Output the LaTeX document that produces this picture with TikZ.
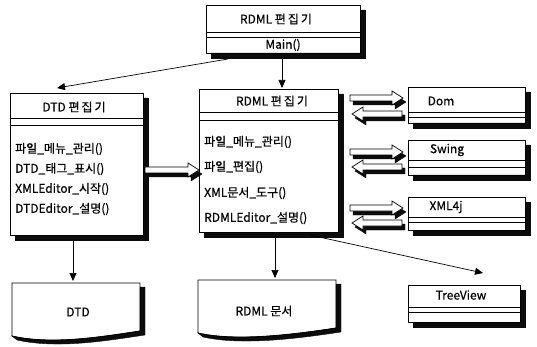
\documentclass[tikz,border=0pt]{standalone}
\usepackage{fontspec}
\setmainfont{Noto Sans CJK KR}[FakeBold=0.6]
\usetikzlibrary{arrows.meta}
\definecolor{shadowc}{RGB}{12,12,12}
\tikzset{shd/.style={fill=shadowc,draw=shadowc,line width=0.4pt}}
\begin{document}
\begin{tikzpicture}[x=1pt,y=-1pt,font=\fontsize{12}{14}\selectfont,
  cls/.style={draw,line width=0.9pt,inner sep=0,anchor=north west},
  conn/.style={line width=0.7pt,-{Triangle[length=8pt,width=7pt]}},
  item/.style={inner sep=0,anchor=west},
  ttl/.style={inner sep=0},
  cmp/.style={line width=0.7pt}]
\useasboundingbox (0,0) rectangle (537,347);
% ---- shadows (drawn first, L-shaped so nothing covers them)
\path[shd] (360,10) -- (365,10) -- (365,58) -- (211,58) -- (211,53) -- (360,53) -- cycle;
\path[shd] (143,98) -- (148,98) -- (148,240) -- (15,240) -- (15,235) -- (143,235) -- cycle;
\path[shd] (338,94) -- (343,94) -- (343,237) -- (204,237) -- (204,232) -- (338,232) -- cycle;
\path[shd] (525,92) -- (530,92) -- (530,128) -- (413,128) -- (413,123) -- (525,123) -- cycle;
\path[shd] (525,145) -- (530,145) -- (530,180) -- (413,180) -- (413,175) -- (525,175) -- cycle;
\path[shd] (525,202) -- (530,202) -- (530,235) -- (413,235) -- (413,230) -- (525,230) -- cycle;
\path[shd] (520,290) -- (525,290) -- (525,327) -- (413,327) -- (413,322) -- (520,322) -- cycle;
% document shadows
\path[shd] (140,287) -- (145,287) -- (145,335) .. controls (105,341) and (57,349) .. (17,340) -- (12,336) .. controls (52,345) and (100,337) .. (140,331) -- cycle;
\path[shd] (336,284) -- (341,284) -- (341,332) .. controls (301,338) and (243,346) .. (203,337) -- (198,333) .. controls (238,342) and (296,334) .. (336,328) -- cycle;
% fat arrow shadows (right-pointing)
\path[shd] (148,171) -- (191,171) -- (191,167) -- (202,174) -- (191,181) -- (191,177) -- (148,177) -- cycle;
\path[shd] (353,99) -- (395,99) -- (395,95) -- (406,102) -- (395,109) -- (395,105) -- (353,105) -- cycle;
\path[shd] (353,153) -- (395,153) -- (395,149) -- (406,156) -- (395,163) -- (395,159) -- (353,159) -- cycle;
\path[shd] (353,209) -- (395,209) -- (395,205) -- (406,212) -- (395,219) -- (395,215) -- (353,215) -- cycle;
% fat arrow shadows (left-pointing)
\path[shd] (405,115) -- (366,115) -- (366,111) -- (355,118) -- (366,125) -- (366,121) -- (405,121) -- cycle;
\path[shd] (405,168) -- (366,168) -- (366,164) -- (355,171) -- (366,178) -- (366,174) -- (405,174) -- cycle;
\path[shd] (405,224) -- (366,224) -- (366,220) -- (355,227) -- (366,234) -- (366,230) -- (405,230) -- cycle;

% ---- class boxes
\node[cls,minimum width=154,minimum height=48] (top) at (206,5) {};
\draw[cmp] (top.west|-0,32) -- (top.east|-0,32) (top.west|-0,37) -- (top.east|-0,37);
\node[ttl] (topt) at (276,19) {RDML 편\,집\,기};
\node[ttl] (topm) at (283,45) {Main()};

\node[cls,minimum width=133,minimum height=142] (dtd) at (10,93) {};
\draw[cmp] (dtd.west|-0,118) -- (dtd.east|-0,118) (dtd.west|-0,125) -- (dtd.east|-0,125);
\node[ttl] (dtdt) at (74,107) {DTD 편\,집\,기};
\node[item] (d1) at (15,149) {파일\_메뉴\_관리()};
\node[item] (d2) at (15,169) {DTD\_태그\_표시()};
\node[item] (d3) at (15,189) {XMLEditor\_시작()};
\node[item] (d4) at (15,209) {DTDEditor\_설명()};

\node[cls,minimum width=139,minimum height=143] (rdml) at (199,89) {};
\draw[cmp] (rdml.west|-0,112) -- (rdml.east|-0,112) (rdml.west|-0,120) -- (rdml.east|-0,120);
\node[ttl] (rdmlt) at (272,101) {RDML 편\,집\,기};
\node[item] (r1) at (204,142) {파일\_메뉴\_관리()};
\node[item] (r2) at (204,167) {파일\_편집()};
\node[item] (r3) at (204,193) {XML문서\_도구()};
\node[item] (r4) at (204,218) {RDMLEditor\_설명()};

\node[cls,minimum width=117,minimum height=36] (dom) at (408,87) {};
\draw[cmp] (dom.west|-0,112) -- (dom.east|-0,112) (dom.west|-0,117) -- (dom.east|-0,117);
\node[ttl] (domt) at (441,101) {Dom};
\node[cls,minimum width=117,minimum height=35] (swing) at (408,140) {};
\draw[cmp] (swing.west|-0,160) -- (swing.east|-0,160) (swing.west|-0,167) -- (swing.east|-0,167);
\node[ttl] (swingt) at (447,150) {Swing};
\node[cls,minimum width=117,minimum height=33] (xml) at (408,197) {};
\draw[cmp] (xml.west|-0,217) -- (xml.east|-0,217) (xml.west|-0,222) -- (xml.east|-0,222);
\node[ttl] (xmlt) at (446,207) {XML4j};
\node[cls,minimum width=112,minimum height=37] (tree) at (408,285) {};
\draw[cmp] (tree.west|-0,307) -- (tree.east|-0,307) (tree.west|-0,312) -- (tree.east|-0,312);
\node[ttl] (treet) at (461,295) {TreeView};

% ---- documents
\draw[line width=0.8pt] (12,283) -- (140,283) -- (140,331) .. controls (100,337) and (52,345) .. (12,336) -- cycle;
\node[ttl] (dtddoc) at (78,312) {DTD};
\draw[line width=0.8pt] (198,280) -- (336,280) -- (336,328) .. controls (296,334) and (238,342) .. (198,333) -- cycle;
\node[ttl] (rdmldoc) at (264,311) {RDML 문서};

% ---- connectors
\coordinate (a1s) at (228,59); \coordinate (a1e) at (57,88);
\draw[conn] (a1s) -- (a1e);
\coordinate (a2s) at (282,58); \coordinate (a2e) at (282,88);
\draw[conn] (a2s) -- (a2e);
\coordinate (a3s) at (73,240); \coordinate (a3e) at (73,281);
\draw[conn] (a3s) -- (a3e);
\coordinate (a4s) at (275,237); \coordinate (a4e) at (275,278);
\draw[conn] (a4s) -- (a4e);
\coordinate (a5s) at (310,235); \coordinate (a5e) at (483,273);
\draw[conn] (a5s) -- (a5e);

% ---- fat arrows (white bodies, outlined)
\filldraw[fill=white,draw=black,line width=0.7pt] (145,167) -- (188,167) -- (188,163) -- (199,170) -- (188,177) -- (188,173) -- (145,173) -- cycle;
\filldraw[fill=white,draw=black,line width=0.7pt] (350,95) -- (392,95) -- (392,91) -- (403,98) -- (392,105) -- (392,101) -- (350,101) -- cycle;
\filldraw[fill=white,draw=black,line width=0.7pt] (350,149) -- (392,149) -- (392,145) -- (403,152) -- (392,159) -- (392,155) -- (350,155) -- cycle;
\filldraw[fill=white,draw=black,line width=0.7pt] (350,205) -- (392,205) -- (392,201) -- (403,208) -- (392,215) -- (392,211) -- (350,211) -- cycle;
\filldraw[fill=white,draw=black,line width=0.7pt] (402,111) -- (363,111) -- (363,107) -- (352,114) -- (363,121) -- (363,117) -- (402,117) -- cycle;
\filldraw[fill=white,draw=black,line width=0.7pt] (402,164) -- (363,164) -- (363,160) -- (352,167) -- (363,174) -- (363,170) -- (402,170) -- cycle;
\filldraw[fill=white,draw=black,line width=0.7pt] (402,220) -- (363,220) -- (363,216) -- (352,223) -- (363,230) -- (363,226) -- (402,226) -- cycle;
\end{tikzpicture}
\end{document}
